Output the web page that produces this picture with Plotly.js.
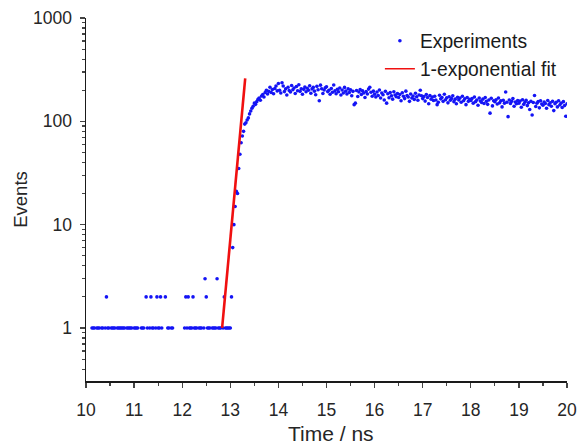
<!DOCTYPE html>
<html>
<head>
<meta charset="utf-8">
<script src="https://cdn.plot.ly/plotly-3.0.1.min.js"></script>
<style>html,body{margin:0;padding:0;background:#fff;}#chart{width:579px;height:445px;}</style>
</head>
<body>
<div id="chart"></div>
<script>
// Histogram channels of the decay measurement
const startTime = 10.0;      // ns, first channel
const channelWidth = 0.025;  // ns per channel
const n = null;              // empty channel (0 events, not shown on log axis)

// Events per channel, 10.000 ns ... 20.000 ns
const counts = [
  // 10.000 - 10.975
  n,n,n,n,n,1,1,1,n,1, 1,1,n,1,1,n,1,2,1,1, n,1,1,1,1,n,1,1,1,1, 1,1,1,n,1,1,1,1,1,n,
  // 11.000 - 11.975
  1,1,1,1,n,n,1,1,1,n, 2,1,n,1,2,1,1,n,1,2, 1,1,2,1,n,n,2,n,1,1, n,1,1,n,n,n,n,n,n,n,
  // 12.000 - 12.975
  n,n,1,2,1,2,1,1,1,2, 1,1,1,n,1,1,1,n,1,3, 2,1,1,1,n,1,1,1,1,3, 1,1,1,n,1,2,1,1,1,1,
  // 13.000 - 13.975
  1,2,6,10,15,21,20,35,48,62, 72,80,94,97,103,108,118,126,134,140, 150,146,155,163,168,160,176,182,172,190,
  200,184,195,214,190,203,185,208,220,197,
  // 14.000 - 14.975
  232,200,188,236,220,194,206,180,214,199, 192,222,202,210,186,217,198,226,195,207,
  183,204,215,193,209,200,221,187,206,213, 196,181,218,202,158,224,207,186,201,211,
  // 15.000 - 15.975
  216,194,200,183,208,191,225,197,185,204, 193,210,180,201,188,213,196,184,206,190,
  202,177,195,145,150,199,174,192,203,182, 197,188,170,194,184,205,214,191,175,196,
  // 16.000 - 16.975
  183,172,192,178,201,168,188,181,161,195, 150,185,169,190,177,164,193,180,173,186,
  170,182,158,189,175,166,196,178,172,156, 184,168,176,163,187,173,160,180,200,177,
  // 17.000 - 17.975
  166,174,157,182,170,148,178,164,172,159, 175,161,145,153,179,165,170,156,183,162,
  169,151,173,160,166,177,155,164,148,171, 161,168,153,175,158,165,145,170,156,163,
  // 18.000 - 18.975
  159,166,150,172,155,161,143,168,157,152, 164,149,170,156,146,161,120,167,141,158,
  155,162,147,168,151,158,138,160,150,192, 153,111,161,149,156,166,140,154,148,159,
  // 19.000 - 19.975
  150,157,137,162,146,153,160,142,151,130, 156,115,152,178,139,150,155,135,158,147,
  143,154,149,134,159,145,151,140,156,127, 148,153,138,158,144,150,136,155,142,112,
  // 20.000
  148
];
const time = counts.map((_, i) => startTime + i * channelWidth);

// Single-exponential fit (rising edge), end points
const fitTime = [12.83, 13.31];
const fitEvents = [1, 261];

const xTicks = [10, 11, 12, 13, 14, 15, 16, 17, 18, 19, 20];
const yTicks = [1, 10, 100, 1000];
const yTickLabels = ['1', '10', '100', '1000'];
const xTitle = 'Time / ns';
const yTitle = 'Events';

const font = 'Liberation Sans, Arial, Helvetica, sans-serif';

const yMinor = [];
[0.1, 1, 10, 100].forEach(d => { for (let k = 2; k <= 9; k++) yMinor.push(k * d); });

const traces = [
  {
    x: time, y: counts, type: 'scatter', mode: 'markers', name: 'Experiments',
    marker: {color: '#1414f5', size: 3.6, symbol: 'circle', line: {width: 0}},
    cliponaxis: true
  },
  {
    x: fitTime, y: fitEvents, type: 'scatter', mode: 'lines', name: '1-exponential fit',
    line: {color: '#f01010', width: 2.6}, showlegend: false
  },
  {
    x: [null], y: [null], type: 'scatter', mode: 'lines', name: '1-exponential fit',
    line: {color: '#f01010', width: 1.3}
  }
];

const layout = {
  width: 579, height: 445,
  margin: {l: 86, r: 12, t: 18, b: 64},
  paper_bgcolor: '#ffffff', plot_bgcolor: '#ffffff',
  font: {family: font, size: 17, color: '#262626'},
  showlegend: true,
  legend: {
    x: 0.611, y: 0.99, xanchor: 'left', yanchor: 'top',
    bgcolor: 'rgba(0,0,0,0)', font: {family: font, size: 19.3, color: '#1a1a1a'},
    tracegroupgap: 0
  },
  xaxis: {
    range: [10, 20], tickvals: xTicks, ticks: 'outside', ticklen: 5, tickwidth: 1.3,
    showline: true, linecolor: '#1a1a1a', linewidth: 1.5, showgrid: false, zeroline: false,
    tickfont: {family: font, size: 17.5}, ticklabelstandoff: 7,
    minor: {ticks: 'outside', ticklen: 3, tickwidth: 1.2, dtick: 0.5, showgrid: false}
  },
  yaxis: {
    type: 'log', range: [-0.513, 3.0], tickvals: yTicks, ticktext: yTickLabels,
    ticks: 'outside', ticklen: 5, tickwidth: 1.3,
    showline: true, linecolor: '#1a1a1a', linewidth: 1.5, showgrid: false, zeroline: false,
    tickfont: {family: font, size: 17.5}, ticklabelstandoff: 4,
    minor: {ticks: 'outside', ticklen: 3, tickwidth: 1.2, tickvals: yMinor, showgrid: false},
    title: {text: yTitle, font: {family: font, size: 18.5}, standoff: 0}
  },
  annotations: [{
    text: xTitle, xref: 'paper', yref: 'paper', x: 0.51, y: -0.146,
    xanchor: 'center', yanchor: 'middle', showarrow: false,
    font: {family: font, size: 21, color: '#262626'}
  }]
};

Plotly.newPlot('chart', traces, layout, {displayModeBar: false, staticPlot: true});
</script>
</body>
</html>
